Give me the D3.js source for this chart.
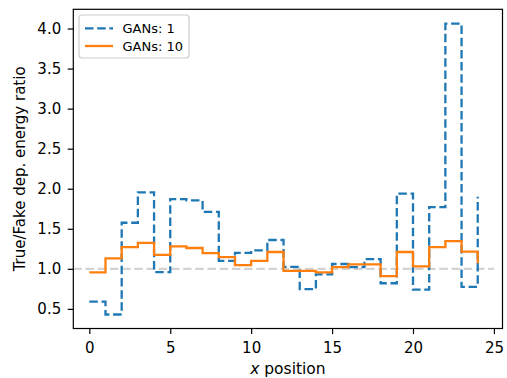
<!DOCTYPE html>
<html><head><meta charset="utf-8">
<script src="https://cdn.jsdelivr.net/npm/d3@7"></script>
<style>body{margin:0;background:#fff}svg{display:block}text{font-family:"DejaVu Sans",sans-serif;fill:#000}</style>
</head><body><div id="chart"></div>
<script>
const xPositions = d3.range(0, 25);
const gans1 = [0.59,0.43,1.575,1.955,0.96,1.87,1.855,1.71,1.10,1.20,1.23,1.36,1.025,0.746,0.93,1.06,1.02,1.12,0.82,1.94,0.74,1.77,4.06,0.775,1.90];
const gans10 = [0.955,1.13,1.27,1.325,1.175,1.28,1.26,1.195,1.145,1.045,1.10,1.21,0.975,0.975,0.955,1.02,1.055,1.055,0.91,1.21,1.03,1.27,1.345,1.215,1.07];
const xTicks = [0,5,10,15,20,25];
const yTicks = [0.5,1.0,1.5,2.0,2.5,3.0,3.5,4.0];
const seriesNames = ["GANs: 1","GANs: 10"];

const W=507,H=378;
const m={l:73.3,r:W-502.5,t:9.3,b:H-328.5};
const LW=2.3, DASH="8.5,3.7";
const svg=d3.select("#chart").append("svg").attr("width",W).attr("height",H);
const x=d3.scaleLinear().domain([-0.99,25.53]).range([m.l,W-m.r]);
const y=d3.scaleLinear().domain([0.255,4.24]).range([H-m.b,m.t]);

// reference line
svg.append("line").attr("x1",x(-0.99)).attr("x2",x(25)).attr("y1",y(1)).attr("y2",y(1))
  .attr("stroke","#d3d3d3").attr("stroke-width",LW).attr("stroke-dasharray",DASH);

const line=d3.line().x((d,i)=>x(xPositions[i])).y(d=>y(d)).curve(d3.curveStepAfter);
svg.append("path").datum(gans1).attr("d",line).attr("fill","none").attr("stroke","#1f77b4")
  .attr("stroke-width",LW).attr("stroke-dasharray",DASH);
svg.append("path").datum(gans10).attr("d",line).attr("fill","none").attr("stroke","#ff7f0e")
  .attr("stroke-width",LW);

// frame
svg.append("rect").attr("x",m.l).attr("y",m.t).attr("width",W-m.r-m.l).attr("height",H-m.b-m.t)
  .attr("fill","none").attr("stroke","#000").attr("stroke-width",1.2);

const xa=svg.append("g").attr("transform",`translate(0,${H-m.b})`)
  .call(d3.axisBottom(x).tickValues(xTicks).tickSize(5.6).tickPadding(8).tickFormat(d3.format("d")));
const ya=svg.append("g").attr("transform",`translate(${m.l},0)`)
  .call(d3.axisLeft(y).tickValues(yTicks).tickSize(5.6).tickPadding(6.5).tickFormat(d3.format(".1f")));
[xa,ya].forEach(a=>{a.select(".domain").remove();a.selectAll("text").attr("font-size",15).attr("font-family","DejaVu Sans").attr("fill","#000");a.selectAll("line").attr("stroke","#000").attr("stroke-width",1.2);});

svg.append("text").attr("x",(m.l+W-m.r)/2).attr("y",373.5).attr("text-anchor","middle").attr("font-size",15.5)
  .html('<tspan font-style="italic">x</tspan> position');
svg.append("text").attr("transform",`translate(25,${(m.t+H-m.b)/2}) rotate(-90)`).attr("text-anchor","middle").attr("font-size",15)
  .text("True/Fake dep. energy ratio");

// legend
const lg=svg.append("g");
lg.append("rect").attr("x",79).attr("y",15).attr("width",110).attr("height",43).attr("rx",3)
  .attr("fill","#fff").attr("fill-opacity",0.8).attr("stroke","#ccc").attr("stroke-width",1.2);
[0,1].forEach(i=>{
  const yy=28.3+i*17.7;
  lg.append("line").attr("x1",85).attr("x2",113).attr("y1",yy).attr("y2",yy)
    .attr("stroke",i?"#ff7f0e":"#1f77b4").attr("stroke-width",LW).attr("stroke-dasharray",i?null:DASH);
  lg.append("text").attr("x",122.5).attr("y",yy+4.5).attr("font-size",13).text(seriesNames[i]);
});
</script></body></html>
